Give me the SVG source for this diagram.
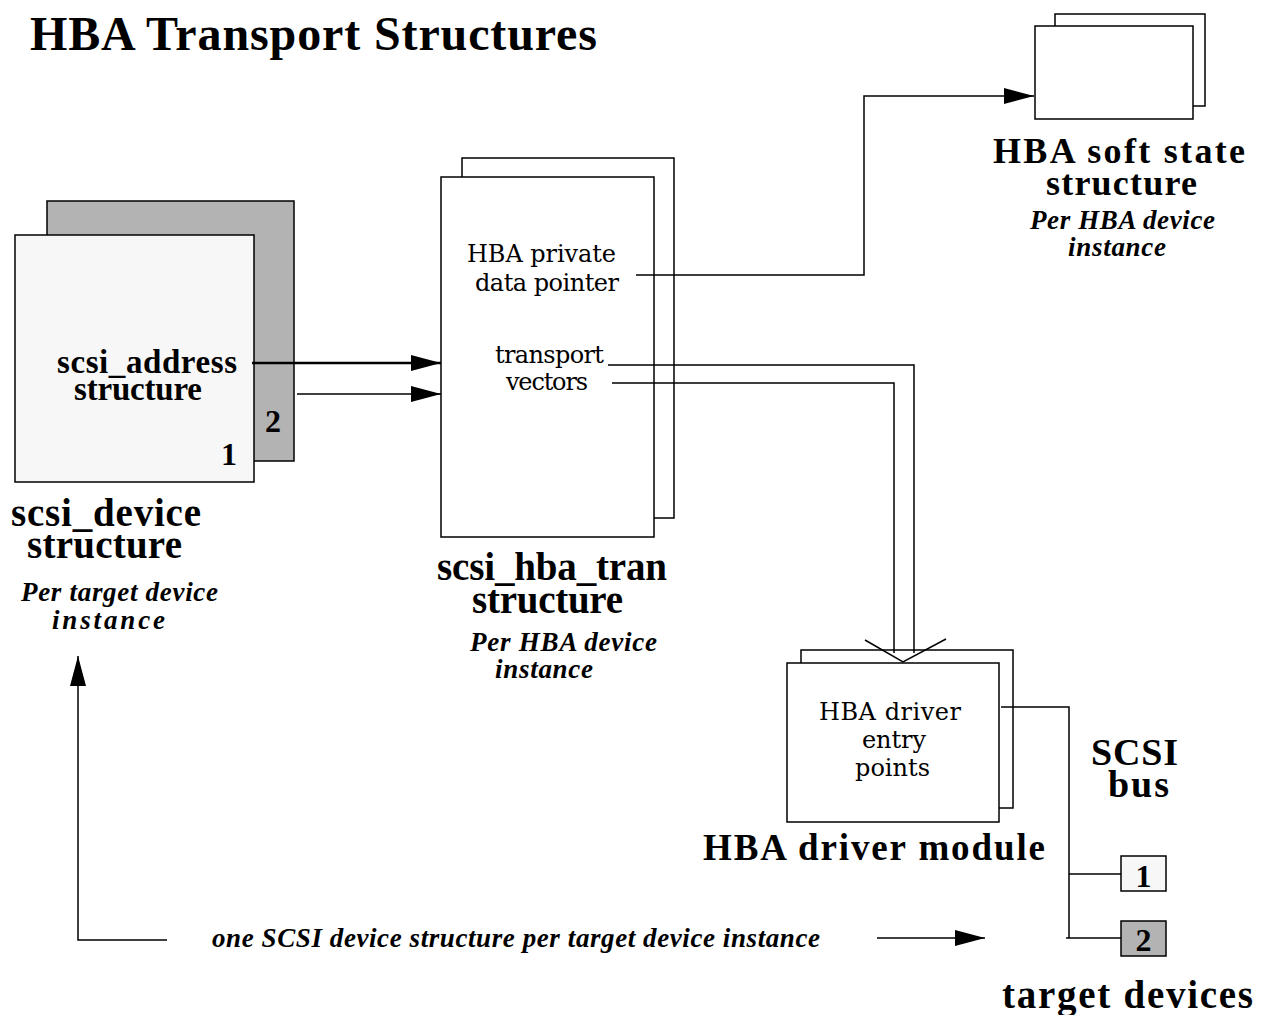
<svg xmlns="http://www.w3.org/2000/svg" width="1270" height="1015" viewBox="0 0 1270 1015">
<defs>
<marker id="ah" markerUnits="userSpaceOnUse" markerWidth="32" markerHeight="18" refX="30" refY="9" orient="auto"><path d="M0,1 L30,9 L0,17 Z" fill="#000"/></marker>
</defs>
<style>
.b{font-family:"Liberation Serif",serif;font-weight:bold;fill:#000}
.bi{font-family:"Liberation Serif",serif;font-weight:bold;font-style:italic;fill:#000}
.r{font-family:"DejaVu Serif","Liberation Serif",serif;fill:#000}
.box{stroke:#000;stroke-width:1.5}
.ln{fill:none;stroke:#000;stroke-width:1.5}
</style>
<rect width="1270" height="1015" fill="#fff"/>
<text class="b" x="30" y="50" font-size="48" textLength="567">HBA Transport Structures</text>

<g id="scsi_device">
<rect class="box" x="47" y="201" width="247" height="260" fill="#b3b3b3"/>
<rect class="box" x="15" y="235" width="239" height="247" fill="#f7f7f7"/>
<text class="b" x="57" y="373" font-size="33" textLength="180">scsi_address</text>
<text class="b" x="74" y="400" font-size="33" textLength="128">structure</text>
<text class="b" x="265" y="432" font-size="32">2</text>
<text class="b" x="221" y="465" font-size="32">1</text>
<text class="b" x="11" y="526" font-size="39" textLength="190">scsi_device</text>
<text class="b" x="27" y="558" font-size="39" textLength="155">structure</text>
<text class="bi" x="21" y="601" font-size="27" textLength="197">Per target device</text>
<text class="bi" x="52" y="629" font-size="27" textLength="113">instance</text>
</g>

<g id="scsi_hba_tran">
<rect class="box" x="462" y="158" width="212" height="360" fill="#fff"/>
<rect class="box" x="441" y="177" width="213" height="360" fill="#fff"/>
<text class="r" x="467" y="262" font-size="24" textLength="149">HBA private</text>
<text class="r" x="475" y="291" font-size="24" textLength="144">data pointer</text>
<text class="r" x="495" y="363" font-size="24" textLength="109">transport</text>
<text class="r" x="506" y="390" font-size="24" textLength="82">vectors</text>
<text class="b" x="437" y="580" font-size="39" textLength="230">scsi_hba_tran</text>
<text class="b" x="472" y="613" font-size="39" textLength="151">structure</text>
<text class="bi" x="470" y="651" font-size="27" textLength="187">Per HBA device</text>
<text class="bi" x="495" y="678" font-size="27" textLength="98">instance</text>
</g>

<g id="soft_state">
<rect class="box" x="1055" y="14" width="150" height="92" fill="#fff"/>
<rect class="box" x="1035" y="26" width="158" height="93" fill="#fff"/>
<text class="b" x="993" y="163" font-size="36" textLength="252">HBA  soft state</text>
<text class="b" x="1046" y="195" font-size="36" textLength="151">structure</text>
<text class="bi" x="1030" y="229" font-size="27" textLength="185">Per HBA device</text>
<text class="bi" x="1068" y="256" font-size="27" textLength="98">instance</text>
</g>

<g id="hba_driver">
<rect class="box" x="801" y="650" width="212" height="158" fill="#fff"/>
<rect class="box" x="787" y="663" width="212" height="159" fill="#fff"/>
<text class="r" x="819" y="720" font-size="24" textLength="142">HBA driver</text>
<text class="r" x="862" y="748" font-size="24" textLength="64">entry</text>
<text class="r" x="855" y="776" font-size="24" textLength="75">points</text>
<text class="b" x="703" y="860" font-size="37" textLength="342">HBA driver  module</text>
</g>

<g id="scsi_bus">
<text class="b" x="1091" y="765" font-size="38" textLength="87">SCSI</text>
<text class="b" x="1108" y="797" font-size="38" textLength="61">bus</text>
</g>

<g id="target1">
<rect class="box" x="1121" y="856" width="45" height="35" fill="#f7f7f7"/>
<text class="b" x="1143.5" y="887" font-size="32" text-anchor="middle">1</text>
</g>
<g id="target2">
<rect class="box" x="1121" y="921" width="45" height="35" fill="#b3b3b3"/>
<text class="b" x="1143.5" y="951" font-size="32" text-anchor="middle">2</text>
</g>
<g id="target_label">
<text class="b" x="1002" y="1008" font-size="39" textLength="251">target devices</text>
</g>

<g id="note">
<text class="bi" x="212" y="947" font-size="27" textLength="608">one SCSI device structure per target device instance</text>
</g>

<g id="connectors">
<line x1="252" y1="363" x2="441" y2="363" stroke="#000" stroke-width="2.5" marker-end="url(#ah)"/>
<line x1="297" y1="394" x2="441" y2="394" class="ln" marker-end="url(#ah)"/>
<polyline class="ln" points="636,275 864,275 864,96 1034,96" marker-end="url(#ah)"/>
<polyline class="ln" points="608,365 914,365 914,653"/>
<polyline class="ln" points="612,383 894,383 894,653"/>
<polyline class="ln" points="865,640 903,662 946,639"/>
<polyline class="ln" points="1001,707 1069,707 1069,938"/>
<line class="ln" x1="1069" y1="874" x2="1121" y2="874"/>
<line class="ln" x1="1066" y1="938" x2="1121" y2="938"/>
<polyline class="ln" points="167,940 78,940 78,656" marker-end="url(#ah)"/>
<line class="ln" x1="877" y1="938" x2="985" y2="938" marker-end="url(#ah)"/>
</g>
</svg>
